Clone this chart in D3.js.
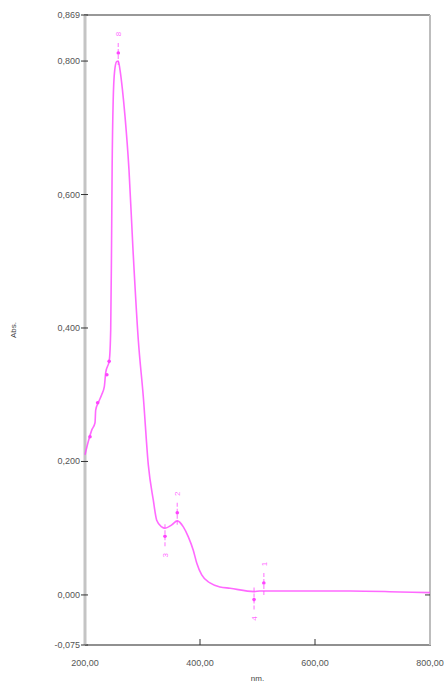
<!DOCTYPE html>
<html><head><meta charset="utf-8">
<script src="https://cdn.jsdelivr.net/npm/d3@7"></script>
<style>html,body{margin:0;padding:0;background:#fff;}svg{display:block;}</style>
</head><body>
<svg id="c" width="444" height="683"></svg>
<script>
// Spectrum data (wavelength nm, absorbance)
const wavelengths = [200,205.7,211.7,217.4,218.6,223.1,229,233.6,236,242.3,244.7,246.1,247.2,249,251.5,255,257.9,261,265,269.6,276.5,283.5,292.7,301.4,310.1,318.8,324.7,333.4,339.1,350.8,360.5,371,379.7,388.3,394.3,403,417.4,434.8,452.2,494,504,661,748,800];
const absorbance  = [0.210,0.230,0.247,0.258,0.277,0.288,0.300,0.312,0.333,0.352,0.397,0.517,0.640,0.740,0.785,0.799,0.800,0.786,0.758,0.717,0.637,0.517,0.382,0.297,0.195,0.142,0.112,0.102,0.100,0.105,0.111,0.102,0.087,0.067,0.048,0.030,0.018,0.012,0.010,0.005,0.006,0.006,0.0045,0.0035];

// Peak / valley picks
const pickNm    = [257.9, 360.5, 339.1, 494, 511];
const pickAbs   = [0.800, 0.111, 0.100, 0.005, 0.006];
const pickDir   = [1, 1, -1, -1, 1];   // 1 = peak (up), -1 = valley (down)
const pickLabel = ["8", "2", "3", "4", "1"];
// small unlabeled picks on the shoulder
const minorNm  = [208.7, 222, 238, 242];
const minorAbs = [0.237, 0.288, 0.330, 0.350];

const yTicks = [0.869, 0.800, 0.600, 0.400, 0.200, 0.000, -0.075];
const yTickLabels = ["0,869","0,800","0,600","0,400","0,200","0,000","-0,075"];
const xTicks = [200, 400, 600, 800];
const xTickLabels = ["200,00","400,00","600,00","800,00"];

const L = 85, R = 430, T = 15, B = 645;
const x = d3.scaleLinear().domain([200, 800]).range([L, R]);
const y = d3.scaleLinear().domain([-0.075, 0.869]).range([B, T]);

const svg = d3.select("#c");
const mag = "#ff44ff";

// frame
svg.append("line").attr("x1", L-1).attr("x2", R).attr("y1", T).attr("y2", T).attr("stroke", "#333").attr("stroke-width", 1.2);
svg.append("line").attr("x1", L).attr("x2", R+1).attr("y1", B).attr("y2", B).attr("stroke", "#222").attr("stroke-width", 1.2);
svg.append("line").attr("x1", L).attr("x2", L).attr("y1", T).attr("y2", B).attr("stroke", "#c4c4c4").attr("stroke-width", 3);
svg.append("line").attr("x1", R).attr("x2", R).attr("y1", T).attr("y2", B).attr("stroke", "#bdbdbd").attr("stroke-width", 2);

const font = "Liberation Sans, Arial, sans-serif";

// y ticks
yTicks.forEach((v, i) => {
  svg.append("line").attr("x1", L-4).attr("x2", L+3).attr("y1", y(v)).attr("y2", y(v)).attr("stroke", "#333").attr("stroke-width", 1);
  svg.append("text").attr("x", L-5).attr("y", y(v)+3).attr("text-anchor", "end")
    .attr("font-family", font).attr("font-size", 9).attr("fill", "#555").text(yTickLabels[i]);
});
// right tick at 0
svg.append("line").attr("x1", R-5).attr("x2", R).attr("y1", y(0)).attr("y2", y(0)).attr("stroke", "#333");
// x ticks
xTicks.forEach((v, i) => {
  if (v > 200 && v < 800)
    svg.append("line").attr("x1", x(v)).attr("x2", x(v)).attr("y1", B).attr("y2", B-6).attr("stroke", "#333");
  svg.append("text").attr("x", x(v)).attr("y", B+21).attr("text-anchor", "middle")
    .attr("font-family", font).attr("font-size", 9).attr("fill", "#555").text(xTickLabels[i]);
});

// axis titles
svg.append("text").attr("transform", `translate(16,${(T+B)/2}) rotate(-90)`).attr("text-anchor", "middle")
  .attr("font-family", font).attr("font-size", 8).attr("fill", "#444").text("Abs.");
svg.append("text").attr("x", (L+R)/2).attr("y", 681).attr("text-anchor", "middle")
  .attr("font-family", font).attr("font-size", 8).attr("fill", "#444").text("nm.");

// spectrum
const pts = wavelengths.map((w, i) => [w, absorbance[i]]);
const line = d3.line().x(d => x(d[0])).y(d => y(d[1])).curve(d3.curveMonotoneX);
svg.append("path").datum(pts).attr("d", line).attr("fill", "none")
  .attr("stroke", mag).attr("stroke-width", 1.6).attr("stroke-opacity", 0.8);

// picks
pickNm.forEach((w, i) => {
  const px = x(w), py = y(pickAbs[i]), d = pickDir[i];
  svg.append("line").attr("x1", px).attr("x2", px).attr("y1", py + d*4).attr("y2", py - d*20)
    .attr("stroke", mag).attr("stroke-width", 1.4).attr("stroke-dasharray", "4,2").attr("stroke-opacity", 0.55);
  svg.append("circle").attr("cx", px).attr("cy", py - d*8).attr("r", 1.8).attr("fill", mag);
  svg.append("text").attr("transform", `translate(${px+3},${py - d*27}) rotate(-90)`).attr("text-anchor", "middle")
    .attr("font-family", font).attr("font-size", 8).attr("fill", mag).attr("fill-opacity", 0.8).text(pickLabel[i]);
});
minorNm.forEach((w, i) => {
  svg.append("circle").attr("cx", x(w)).attr("cy", y(minorAbs[i])).attr("r", 1.8).attr("fill", mag);
});
</script>
</body></html>
